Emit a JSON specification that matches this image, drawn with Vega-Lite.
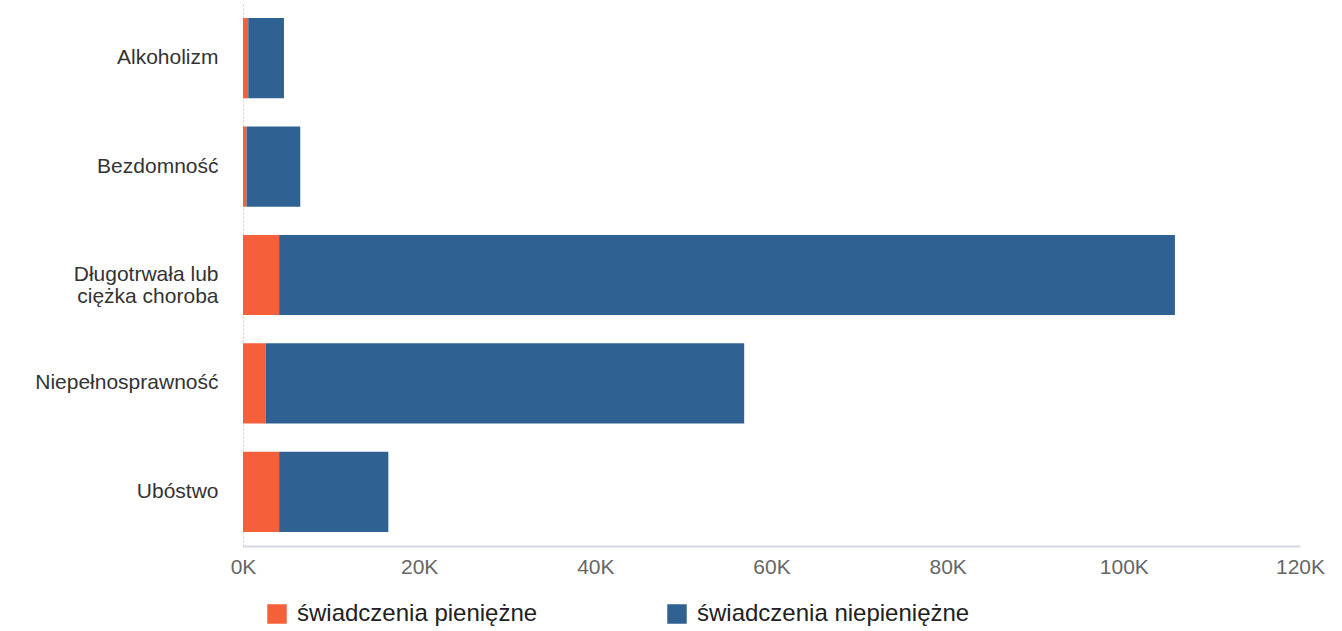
{
  "$schema": "https://vega.github.io/schema/vega-lite/v6.json",
  "autosize": {"type": "none"},
  "width": 1057,
  "height": 542,
  "padding": {"left": 243, "top": 4, "right": 42, "bottom": 85},
  "background": "white",
  "data": {
    "values": [
      {"category": "Alkoholizm", "type": "świadczenia pieniężne", "value": 600},
      {"category": "Alkoholizm", "type": "świadczenia niepieniężne", "value": 4050},
      {"category": "Bezdomność", "type": "świadczenia pieniężne", "value": 400},
      {"category": "Bezdomność", "type": "świadczenia niepieniężne", "value": 6100},
      {"category": "Długotrwała lub ciężka choroba", "type": "świadczenia pieniężne", "value": 4100},
      {"category": "Długotrwała lub ciężka choroba", "type": "świadczenia niepieniężne", "value": 101700},
      {"category": "Niepełnosprawność", "type": "świadczenia pieniężne", "value": 2600},
      {"category": "Niepełnosprawność", "type": "świadczenia niepieniężne", "value": 54300},
      {"category": "Ubóstwo", "type": "świadczenia pieniężne", "value": 4100},
      {"category": "Ubóstwo", "type": "świadczenia niepieniężne", "value": 12400}
    ]
  },
  "config": {
    "font": "Liberation Sans",
    "view": {"stroke": null}
  },
  "mark": {"type": "bar"},
  "encoding": {
    "y": {
      "field": "category",
      "type": "nominal",
      "sort": ["Alkoholizm", "Bezdomność", "Długotrwała lub ciężka choroba", "Niepełnosprawność", "Ubóstwo"],
      "scale": {"paddingInner": 0.26, "paddingOuter": 0.13},
      "axis": {
        "title": null,
        "ticks": false,
        "domain": true,
        "domainColor": "#cccccc",
        "domainDash": [2, 2],
        "labelFontSize": 21,
        "labelColor": "#333333",
        "labelPadding": 25,
        "labelLineHeight": 22,
        "labelLimit": 300,
        "labelExpr": "datum.label == 'Długotrwała lub ciężka choroba' ? ['Długotrwała lub', 'ciężka choroba'] : datum.label"
      }
    },
    "x": {
      "field": "value",
      "type": "quantitative",
      "stack": "zero",
      "scale": {"domain": [0, 120000], "nice": false},
      "axis": {
        "title": null,
        "grid": false,
        "ticks": false,
        "values": [0, 20000, 40000, 60000, 80000, 100000, 120000],
        "labelExpr": "(datum.value / 1000) + 'K'",
        "labelFlush": false,
        "labelFontSize": 21,
        "labelColor": "#666666",
        "labelPadding": 10,
        "domainColor": "#d6d6e4",
        "domainWidth": 2
      }
    },
    "color": {
      "field": "type",
      "type": "nominal",
      "scale": {
        "domain": ["świadczenia pieniężne", "świadczenia niepieniężne"],
        "range": ["#f5603a", "#2f6192"]
      },
      "legend": {
        "title": null,
        "orient": "none",
        "legendX": 22,
        "legendY": 598,
        "direction": "horizontal",
        "symbolType": "square",
        "symbolSize": 380,
        "symbolStrokeWidth": 0,
        "labelFontSize": 24,
        "labelColor": "#222222",
        "labelOffset": 8,
        "columnPadding": 127,
        "labelLimit": 400
      }
    },
    "order": {"field": "type", "sort": "descending"}
  }
}
